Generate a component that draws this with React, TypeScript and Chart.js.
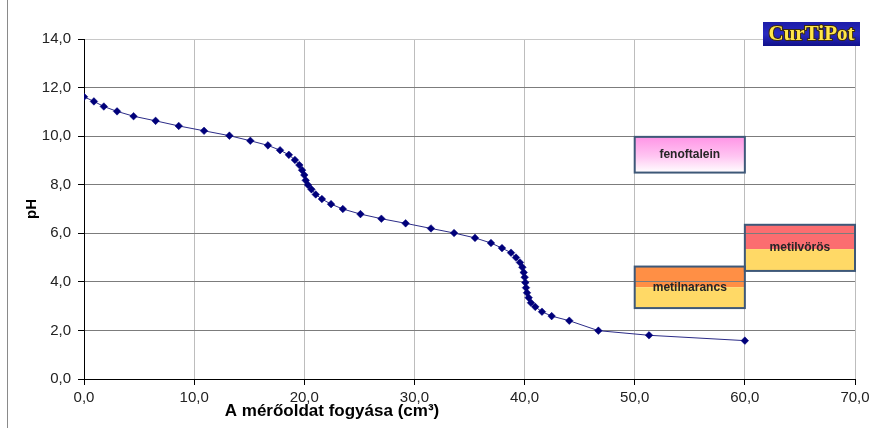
import { useEffect, useRef } from 'react';
import { Chart, registerables } from 'chart.js';

Chart.register(...registerables);

// Titration curve (volume of titrant, cm3) vs pH
const volumes = [
  0.0, 0.9, 1.8, 3.0, 4.5, 6.5, 8.6, 10.9, 13.2, 15.1, 16.7, 17.8, 18.6, 19.15, 19.55, 19.8, 20.0,
  20.13, 20.34, 20.65, 21.04, 21.6, 22.43, 23.5, 25.1, 27.0, 29.2, 31.5, 33.6, 35.5, 36.95, 37.95,
  38.77, 39.22, 39.58, 39.8, 39.92, 40.01, 40.07, 40.13, 40.22, 40.37, 40.58, 40.97, 41.58, 42.46,
  44.06, 46.7, 51.3, 60.0,
];
const phValues = [
  11.62, 11.43, 11.22, 11.02, 10.82, 10.63, 10.42, 10.22, 10.02, 9.81, 9.62, 9.42, 9.23, 9.02, 8.81,
  8.6, 8.4, 8.18, 7.99, 7.81, 7.6, 7.41, 7.2, 7.0, 6.79, 6.6, 6.41, 6.2, 6.01, 5.81, 5.6, 5.39, 5.2,
  5.0, 4.8, 4.6, 4.39, 4.19, 3.97, 3.76, 3.55, 3.35, 3.14, 2.97, 2.77, 2.59, 2.4, 1.99, 1.8, 1.58,
];

const xTickValues = [0, 10, 20, 30, 40, 50, 60, 70];
const yTickValues = [0, 2, 4, 6, 8, 10, 12, 14];

// Indicators: name, volume span of the box, pH range (low / change / high)
const indicatorNames = ['fenoftalein', 'metilnarancs', 'metilvörös'];
const indicatorVolFrom = [50, 50, 60];
const indicatorVolTo = [60, 60, 70];
const indicatorPhLow = [8.5, 2.92, 4.45];
const indicatorPhChange = [8.5, 3.78, 5.35];
const indicatorPhHigh = [9.97, 4.63, 6.35];

const xTitle = 'A mérőoldat fogyása (cm³)';
const yTitle = 'pH';
const logoText = 'CurTiPot';

const fmt = (v: number) => v.toFixed(1).replace('.', ',');

const topColors = ['#ff9be8', '#ff8f45', '#fb6d70'];
const bottomColor = '#ffd966';

const backgroundPlugin = {
  id: 'bgAndBoxes',
  beforeDraw(chart: any) {
    const { ctx, width, height } = chart;
    ctx.save();
    ctx.fillStyle = '#ffffff';
    ctx.fillRect(0, 0, width, height);
    const xs = chart.scales.x;
    const ys = chart.scales.y;
    for (let i = 0; i < indicatorNames.length; i++) {
      const x0 = xs.getPixelForValue(indicatorVolFrom[i]);
      const x1 = xs.getPixelForValue(indicatorVolTo[i]);
      const yTop = ys.getPixelForValue(indicatorPhHigh[i]);
      const yMid = ys.getPixelForValue(indicatorPhChange[i]);
      const yBot = ys.getPixelForValue(indicatorPhLow[i]);
      if (i === 0) {
        const g = ctx.createLinearGradient(0, yTop, 0, yBot);
        g.addColorStop(0, '#ff94e6');
        g.addColorStop(0.55, '#ffc6f2');
        g.addColorStop(1, '#ffffff');
        ctx.fillStyle = g;
        ctx.fillRect(x0, yTop, x1 - x0, yBot - yTop);
      } else {
        ctx.fillStyle = topColors[i];
        ctx.fillRect(x0, yTop, x1 - x0, yMid - yTop);
        ctx.fillStyle = bottomColor;
        ctx.fillRect(x0, yMid, x1 - x0, yBot - yMid);
      }
    }
    ctx.restore();
  },
  afterDraw(chart: any) {
    const { ctx } = chart;
    const xs = chart.scales.x;
    const ys = chart.scales.y;
    ctx.save();
    // indicator borders and labels
    for (let i = 0; i < indicatorNames.length; i++) {
      const x0 = xs.getPixelForValue(indicatorVolFrom[i]);
      const x1 = xs.getPixelForValue(indicatorVolTo[i]);
      const yTop = ys.getPixelForValue(indicatorPhHigh[i]);
      const yBot = ys.getPixelForValue(indicatorPhLow[i]);
      ctx.strokeStyle = '#3e5878';
      ctx.lineWidth = 2;
      ctx.strokeRect(x0, yTop, x1 - x0, yBot - yTop);
      ctx.fillStyle = '#262626';
      ctx.font = "bold 12px 'Liberation Sans', Arial, sans-serif";
      ctx.textAlign = 'center';
      ctx.textBaseline = 'middle';
      ctx.fillText(indicatorNames[i], (x0 + x1) / 2, (yTop + yBot) / 2);
    }
    // axis titles
    ctx.fillStyle = '#000';
    ctx.font = "bold 17px 'Liberation Sans', Arial, sans-serif";
    ctx.textAlign = 'center';
    ctx.textBaseline = 'middle';
    ctx.fillText(xTitle, 332, 411);
    ctx.save();
    ctx.translate(32, 209);
    ctx.rotate(-Math.PI / 2);
    ctx.font = "bold 15px 'Liberation Sans', Arial, sans-serif";
    ctx.fillText(yTitle, 0, 0);
    ctx.restore();
    // outer border (left)
    ctx.strokeStyle = '#8a8a8a';
    ctx.lineWidth = 1;
    ctx.beginPath();
    ctx.moveTo(7.5, 0);
    ctx.lineTo(7.5, 428);
    ctx.stroke();
    // logo
    const lx = 763, ly = 22, lw = 97, lh = 24;
    const lg = ctx.createLinearGradient(0, ly, 0, ly + lh);
    lg.addColorStop(0, '#1c1ca8');
    lg.addColorStop(0.5, '#2a2ac0');
    lg.addColorStop(1, '#10108a');
    ctx.fillStyle = lg;
    ctx.fillRect(lx, ly, lw, lh);
    ctx.font = "bold 21px 'Liberation Serif', 'Times New Roman', serif";
    ctx.textAlign = 'center';
    ctx.textBaseline = 'middle';
    ctx.lineWidth = 2;
    ctx.strokeStyle = '#3a2a10';
    ctx.strokeText(logoText, lx + lw / 2, ly + lh / 2 + 1);
    ctx.fillStyle = '#ffe54a';
    ctx.fillText(logoText, lx + lw / 2, ly + lh / 2 + 1);
    ctx.restore();
  },
};

export default function App() {
  const ref = useRef<HTMLCanvasElement | null>(null);
  useEffect(() => {
    if (!ref.current) return;
    const chart = new Chart(ref.current, {
      type: 'line',
      data: {
        datasets: [
          {
            data: volumes.map((v, i) => ({ x: v, y: phValues[i] })),
            borderColor: '#2c2c88',
            borderWidth: 1,
            backgroundColor: '#00007a',
            pointBackgroundColor: '#00007a',
            pointBorderColor: '#00007a',
            pointStyle: 'rectRot',
            pointRadius: 3.8,
            pointBorderWidth: 0.5,
            tension: 0,
            fill: false,
          },
        ],
      },
      options: {
        responsive: false,
        animation: false,
        devicePixelRatio: 1,
        layout: { padding: { top: 39, right: 17, left: 0, bottom: 0 } },
        plugins: { legend: { display: false }, tooltip: { enabled: false }, title: { display: false } },
        scales: {
          x: {
            type: 'linear',
            min: 0,
            max: 70,
            afterBuildTicks: (s: any) => {
              s.ticks = xTickValues.map((v) => ({ value: v }));
            },
            afterFit: (s: any) => {
              s.height = 49;
              s.paddingLeft = 0;
              s.paddingRight = 0;
            },
            ticks: {
              callback: (v: any) => fmt(Number(v)),
              color: '#222',
              font: { family: "'Liberation Sans', Arial, sans-serif", size: 15 },
              padding: 4,
              maxRotation: 0,
            },
            grid: { color: '#bdbdbd', tickColor: '#000', tickLength: 6, lineWidth: 1 },
            border: { color: '#000', width: 1 },
          },
          y: {
            type: 'linear',
            min: 0,
            max: 14,
            afterBuildTicks: (s: any) => {
              s.ticks = yTickValues.map((v) => ({ value: v }));
            },
            afterFit: (s: any) => {
              s.width = 84;
              s.paddingTop = 0;
              s.paddingBottom = 0;
            },
            ticks: {
              callback: (v: any) => fmt(Number(v)),
              color: '#222',
              font: { family: "'Liberation Sans', Arial, sans-serif", size: 15 },
              padding: 7,
            },
            grid: {
              color: (c: any) => (c.tick && c.tick.value === 14 ? '#c8c8c8' : '#7c7c7c'),
              tickColor: '#000',
              tickLength: 6,
              lineWidth: 1,
            },
            border: { color: '#000', width: 1 },
          },
        },
      },
      plugins: [backgroundPlugin],
    });
    return () => chart.destroy();
  }, []);
  return (
    <div style={{ position: 'fixed', left: 0, top: 0, width: 872, height: 428, background: '#fff' }}>
      <canvas ref={ref} width={872} height={428} style={{ display: 'block', width: 872, height: 428 }} />
    </div>
  );
}
